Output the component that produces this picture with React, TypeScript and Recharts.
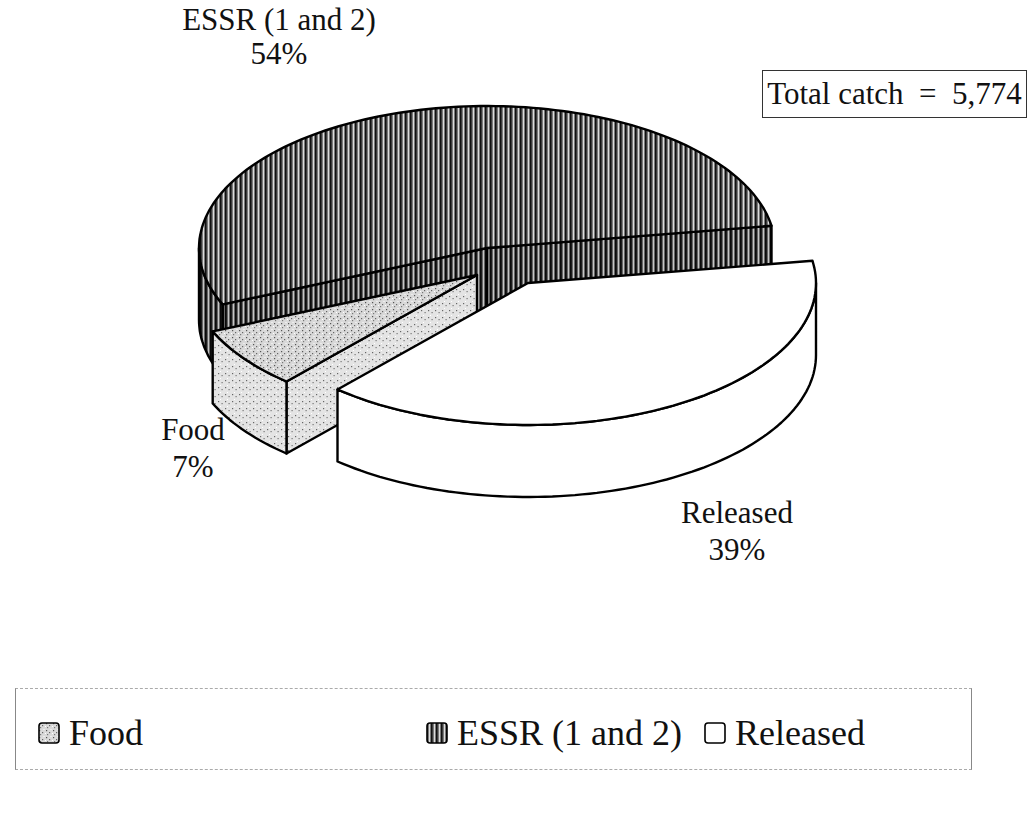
import { PieChart, Pie, Legend } from 'recharts';

const categories = ['ESSR (1 and 2)', 'Food', 'Released'];
const catchCounts = [3118, 404, 2252];
const legendOrder = ['Food', 'ESSR (1 and 2)', 'Released'];
const totalCatch = '5,774';

const data = categories.map((name, i) => ({ name, value: catchCounts[i] }));

const FONT = '"Liberation Serif", "Times New Roman", serif';
const TILT = 0.493;
const DEPTH = 72;

const topFill: Record<string, string> = {
  'ESSR (1 and 2)': 'url(#essr)',
  Food: 'url(#food)',
  Released: '#ffffff',
};
const sideFill: Record<string, string> = {
  'ESSR (1 and 2)': 'url(#essrSide)',
  Food: 'url(#foodSide)',
  Released: '#ffffff',
};
// screen offset of exploded slices
const explode: Record<string, [number, number]> = {
  'ESSR (1 and 2)': [0, 0],
  Food: [-10, 27],
  Released: [41, 35],
};
// x, first baseline, line gap
const labelPos: Record<string, [number, number, number]> = {
  'ESSR (1 and 2)': [279, 30, 34],
  Food: [193, 440, 37],
  Released: [737, 523, 37],
};

const toPath = (pts: number[][]) =>
  'M' + pts.map((p) => `${p[0].toFixed(1)},${p[1].toFixed(1)}`).join('L') + 'Z';

function Slice3D(props: any) {
  const { cx, cy, outerRadius: r, startAngle, endAngle } = props;
  const name = props.payload?.name ?? props.name;
  const [dx, dy] = explode[name] || [0, 0];
  const ox = cx + dx;
  const oy = cy + dy;
  const s = Math.min(startAngle, endAngle);
  const e = Math.max(startAngle, endAngle);
  const pt = (a: number, z = 0) => {
    const rad = (a * Math.PI) / 180;
    return [ox + r * Math.cos(rad), oy - r * TILT * Math.sin(rad) + z];
  };
  const arc = (a0: number, a1: number, z: number) => {
    const n = Math.max(2, Math.ceil(Math.abs(a1 - a0) / 1.5));
    const pts: number[][] = [];
    for (let i = 0; i <= n; i++) pts.push(pt(a0 + ((a1 - a0) * i) / n, z));
    return pts;
  };
  const faces: JSX.Element[] = [];
  const stroke = { stroke: '#000', strokeWidth: 2.4, strokeLinejoin: 'round' as const };
  const cos = (a: number) => Math.cos((a * Math.PI) / 180);

  // radial faces that face the viewer
  if (cos(s) > 0) {
    const p = pt(s);
    faces.push(
      <path key="rs" d={toPath([[ox, oy], p, [p[0], p[1] + DEPTH], [ox, oy + DEPTH]])} fill={sideFill[name]} {...stroke} />
    );
  }
  if (cos(e) < 0) {
    const p = pt(e);
    faces.push(
      <path key="re" d={toPath([[ox, oy], p, [p[0], p[1] + DEPTH], [ox, oy + DEPTH]])} fill={sideFill[name]} {...stroke} />
    );
  }
  // outer curved face, front part only
  for (let k = -1; k <= 2; k++) {
    const a0 = Math.max(s, 180 + 360 * k);
    const a1 = Math.min(e, 360 + 360 * k);
    if (a1 > a0) {
      const pts = [...arc(a0, a1, 0), ...arc(a1, a0, DEPTH)];
      faces.push(<path key={'o' + k} d={toPath(pts)} fill={sideFill[name]} {...stroke} />);
    }
  }
  // top face
  faces.push(<path key="top" d={toPath([[ox, oy], ...arc(s, e, 0)])} fill={topFill[name]} {...stroke} />);
  return <g>{faces}</g>;
}

function renderLabel(props: any) {
  const name = props.payload?.name ?? props.name;
  const [x, y, gap] = labelPos[name];
  const pct = Math.round(props.percent * 100) + '%';
  return (
    <text x={x} y={y} textAnchor="middle" fontFamily={FONT} fontSize={31} fill="#111">
      <tspan x={x}>{name}</tspan>
      <tspan x={x} dy={gap}>{pct}</tspan>
    </text>
  );
}

function Swatch({ name }: { name: string }) {
  return (
    <svg width={22} height={22} style={{ marginRight: 9, verticalAlign: 'middle' }}>
      <rect x={1} y={1} width={20} height={20} rx={3} fill={topFill[name]} stroke="#000" strokeWidth={1.6} />
    </svg>
  );
}

function renderLegend() {
  const lefts = [22, 410, 688];
  return (
    <div style={{ position: 'relative', width: '100%', height: '100%' }}>
      {legendOrder.map((name, i) => (
        <div
          key={name}
          style={{
            position: 'absolute',
            left: lefts[i],
            top: 20,
            fontFamily: FONT,
            fontSize: 36,
            lineHeight: '40px',
            color: '#111',
            whiteSpace: 'nowrap',
          }}
        >
          <Swatch name={name} />
          <span style={{ verticalAlign: 'middle' }}>{name}</span>
        </div>
      ))}
    </div>
  );
}

export default function App() {
  return (
    <div style={{ position: 'absolute', left: 0, top: 0, width: 1029, height: 800, background: '#fff' }}>
      <svg width={0} height={0} style={{ position: 'absolute' }}>
        <defs>
          <pattern id="essr" width={5} height={6} patternUnits="userSpaceOnUse">
            <rect width={5} height={6} fill="#7a7a7a" />
            <rect x={0} width={1.6} height={6} fill="#111" />
            <rect x={3} width={0.9} height={6} fill="#e8e8e8" />
          </pattern>
          <pattern id="essrSide" width={5} height={6} patternUnits="userSpaceOnUse">
            <rect width={5} height={6} fill="#666" />
            <rect x={0} width={1.8} height={6} fill="#0a0a0a" />
            <rect x={3} width={0.8} height={6} fill="#ddd" />
          </pattern>
          <pattern id="food" width={7} height={7} patternUnits="userSpaceOnUse">
            <rect width={7} height={7} fill="#d9d9d9" />
            <rect x={1} y={1} width={1.2} height={1.2} fill="#555" />
            <rect x={4} y={3} width={1.2} height={1.2} fill="#666" />
            <rect x={2} y={5} width={1.2} height={1.2} fill="#777" />
            <rect x={5.5} y={0} width={1} height={1} fill="#fff" />
            <rect x={0} y={4} width={1} height={1} fill="#fff" />
          </pattern>
          <pattern id="foodSide" width={7} height={7} patternUnits="userSpaceOnUse">
            <rect width={7} height={7} fill="#e4e4e4" />
            <rect x={1} y={2} width={1.2} height={1.2} fill="#666" />
            <rect x={4.5} y={4} width={1.2} height={1.2} fill="#777" />
            <rect x={3} y={0} width={1} height={1} fill="#fff" />
          </pattern>
        </defs>
      </svg>
      <PieChart width={1029} height={800}>
        <Pie
          data={data}
          dataKey="value"
          nameKey="name"
          cx={482}
          cy={243}
          outerRadius={288}
          startAngle={9}
          endAngle={369}
          shape={Slice3D}
          activeShape={Slice3D}
          inactiveShape={Slice3D}
          label={renderLabel}
          labelLine={false}
          isAnimationActive={false}
        />
        <Legend
          content={renderLegend}
          wrapperStyle={{
            position: 'absolute',
            left: 15,
            top: 688,
            width: 957,
            height: 82,
            borderLeft: '1.5px solid #888',
            borderRight: '1.5px solid #888',
            borderTop: '1px dashed #aaa',
            borderBottom: '1px dashed #aaa',
            boxSizing: 'border-box',
          }}
        />
      </PieChart>
      <div
        style={{
          position: 'absolute',
          left: 762,
          top: 70,
          width: 265,
          height: 48,
          boxSizing: 'border-box',
          border: '1.2px solid #333',
          fontFamily: FONT,
          fontSize: 31,
          lineHeight: '46px',
          textAlign: 'center',
          color: '#111',
          whiteSpace: 'pre',
        }}
      >
        {'Total catch  =  ' + totalCatch}
      </div>
    </div>
  );
}
